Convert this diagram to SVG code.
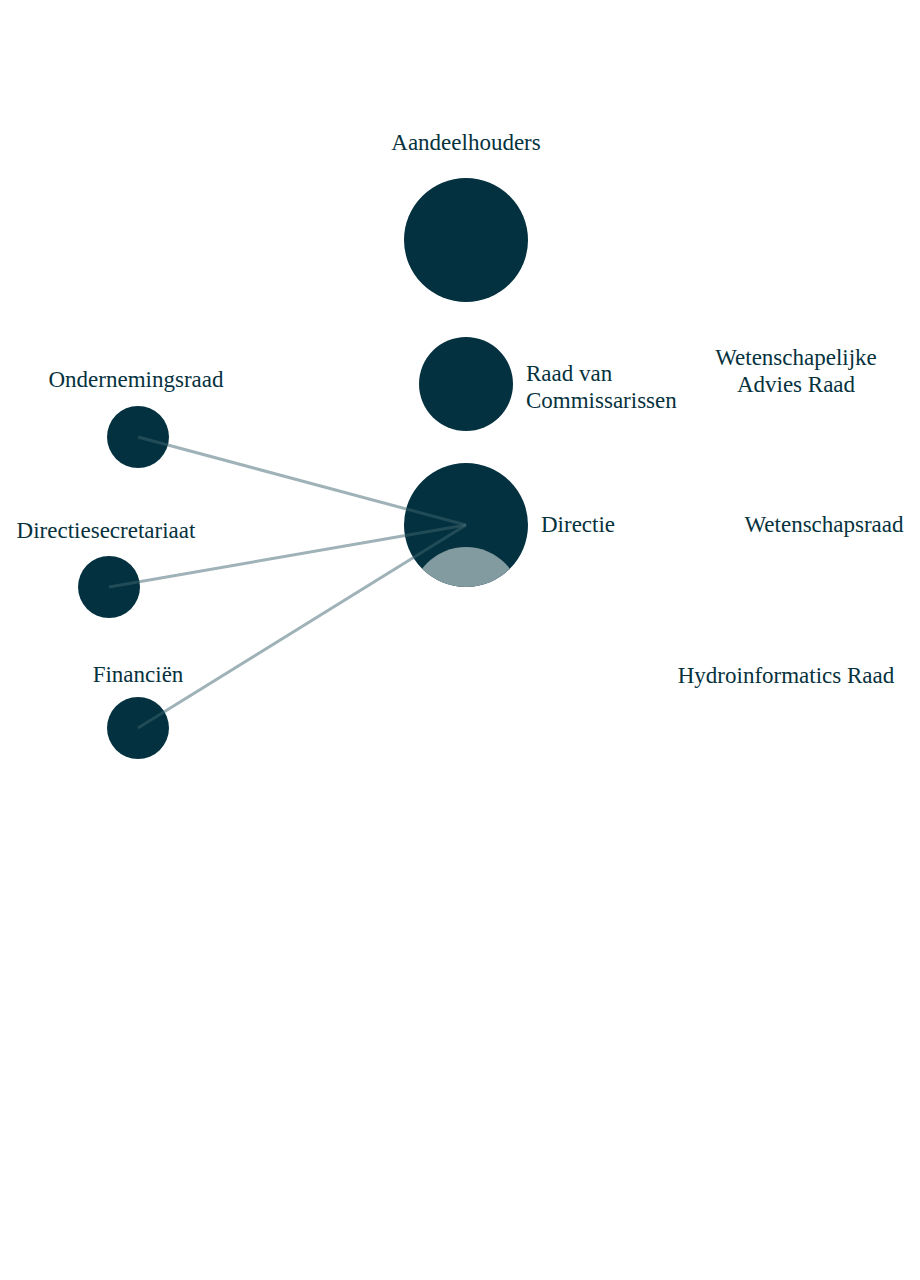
<svg xmlns="http://www.w3.org/2000/svg" width="920" height="1280" viewBox="0 0 920 1280">
<style>
text{font-family:"Liberation Serif",serif;font-size:23px;fill:#06323e}
.n{fill:#03313f}
.c{stroke:#3f6670;stroke-opacity:0.5;stroke-width:3;fill:none}
</style>
<defs><clipPath id="dc"><circle cx="466" cy="525" r="62"/></clipPath></defs>
<rect width="920" height="1280" fill="#fff"/>
<g id="aandeelhouders"><circle class="n" cx="466" cy="240" r="62"/><text x="466" y="150" text-anchor="middle">Aandeelhouders</text></g>
<g id="rvc"><circle class="n" cx="466" cy="384" r="47"/><text x="526" y="381">Raad van</text><text x="526" y="408">Commissarissen</text></g>
<g id="directie"><circle class="n" cx="466" cy="525" r="62"/><circle cx="466" cy="602" r="55" fill="#829ba0" clip-path="url(#dc)"/><text x="541" y="532">Directie</text></g>
<g id="or"><circle class="n" cx="138" cy="437" r="31"/><text x="136" y="387" text-anchor="middle">Ondernemingsraad</text></g>
<g id="ds"><circle class="n" cx="109" cy="587" r="31"/><text x="106" y="538" text-anchor="middle">Directiesecretariaat</text></g>
<g id="fin"><circle class="n" cx="138" cy="728" r="31"/><text x="138" y="682" text-anchor="middle">Financiën</text></g>
<g id="war"><text x="796" y="365" text-anchor="middle">Wetenschapelijke</text><text x="796" y="392" text-anchor="middle">Advies Raad</text></g>
<g id="wr"><text x="824" y="532" text-anchor="middle">Wetenschapsraad</text></g>
<g id="hr"><text x="786" y="683" text-anchor="middle">Hydroinformatics Raad</text></g>
<g id="connectors">
<line class="c" x1="138" y1="437" x2="466" y2="525"/>
<line class="c" x1="109" y1="587" x2="466" y2="525"/>
<line class="c" x1="138" y1="728" x2="466" y2="525"/>
</g>
</svg>
